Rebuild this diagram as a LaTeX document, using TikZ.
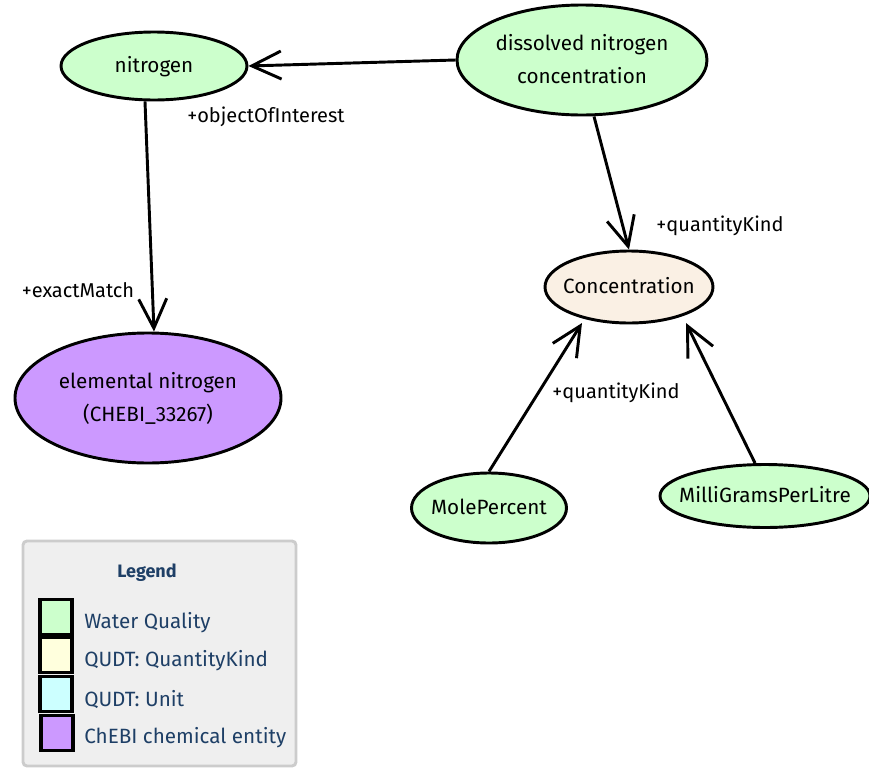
\documentclass[tikz,border=0pt]{standalone}
\usepackage{fontspec}
\setmainfont{Fira Sans}
\usetikzlibrary{shapes.geometric,arrows.meta,calc}
\definecolor{wqgreen}{HTML}{CCFFCC}
\definecolor{qkyellow}{HTML}{FFFFDD}
\definecolor{unitcyan}{HTML}{CCFFFF}
\definecolor{chebipurple}{HTML}{CC99FF}
\definecolor{concfill}{HTML}{FAF0E4}
\definecolor{legendbg}{HTML}{EFEFEF}
\definecolor{legendborder}{HTML}{CCCCCC}
\definecolor{legendtext}{HTML}{1E3F66}
\newcommand\fixw[1]{\makebox[0pt]{\begin{tabular}{@{}c@{}}#1\end{tabular}}}
\tikzset{
  ent/.style={ellipse, draw=black, line width=2.2pt, inner sep=0pt, font=\fontsize{15.5}{25}\selectfont},
  arr/.style={line width=2.2pt, -{Straight Barb[length=22pt,width=21pt,line width=2.2pt]}},
  lbl/.style={font=\fontsize{15}{18}\selectfont, inner sep=0pt},
  swatch/.style={draw=black, line width=2.5pt, minimum width=24pt, minimum height=26pt, inner sep=0pt},
  legtxt/.style={font=\fontsize{15.5}{18}\selectfont, text=legendtext, anchor=west, inner sep=0pt}
}
\begin{document}
\begin{tikzpicture}[x=0.75pt,y=-0.75pt]
\useasboundingbox (0,0) rectangle (869,768);
% nodes
\node[ent, fill=wqgreen, minimum width=139.5pt, minimum height=51pt] (nit) at (154,66) {\fixw{nitrogen}};
\node[ent, fill=wqgreen, minimum width=187.5pt, minimum height=82.5pt] (dis) at (582,60) {\fixw{dissolved nitrogen\\concentration}};
\node[ent, fill=concfill, minimum width=126pt, minimum height=54pt] (conc) at (629,287) {\fixw{Concentration}};
\node[ent, fill=chebipurple, minimum width=199.5pt, minimum height=97.5pt] (elem) at (148,398) {\fixw{elemental nitrogen\\(CHEBI\_33267)}};
\node[ent, fill=wqgreen, minimum width=116.25pt, minimum height=52.5pt] (mole) at (489,508) {\fixw{MolePercent}};
\node[ent, fill=wqgreen, minimum width=157.5pt, minimum height=47.25pt] (mgl) at (765,496) {\fixw{MilliGramsPerLitre}};
% connectors
\draw[arr] (dis.west) -- (nit.east);
\draw[arr] ([xshift=-6.75pt]nit.south) -- ([xshift=4.5pt]elem.north);
\draw[arr] ([xshift=9pt]dis.south) -- (conc.north);
\draw[arr] (mole.north) -- ($(conc.center)+(-47,36)$);
\draw[arr] ([xshift=-7.5pt]mgl.north) -- ($(conc.center)+(57,36)$);
% labels
\node[lbl] (l1) at (266,117) {+objectOfInterest};
\node[lbl] (l2) at (78,290) {+exactMatch};
\node[lbl] (l3) at (720,226) {+quantityKind};
\node[lbl] (l4) at (616,393) {+quantityKind};
% legend
\draw[fill=legendbg, draw=legendborder, line width=2.2pt, rounded corners=3pt] (23,541) rectangle (296,766);
\node[font=\bfseries\fontsize{13.5}{16}\selectfont, text=legendtext] (lt) at (147,573) {Legend};
\node[swatch, fill=wqgreen] (s1) at (56,617) {};
\node[swatch, fill=qkyellow] (s2) at (56,655) {};
\node[swatch, fill=unitcyan] (s3) at (56,694) {};
\node[swatch, fill=chebipurple] (s4) at (57,733) {};
\node[legtxt] (t1) at (84,623) {Water Quality};
\node[legtxt] (t2) at (84,661) {QUDT: QuantityKind};
\node[legtxt] (t3) at (84,699) {QUDT: Unit};
\node[legtxt] (t4) at (84,738) {ChEBI chemical entity};
\end{tikzpicture}
\end{document}
